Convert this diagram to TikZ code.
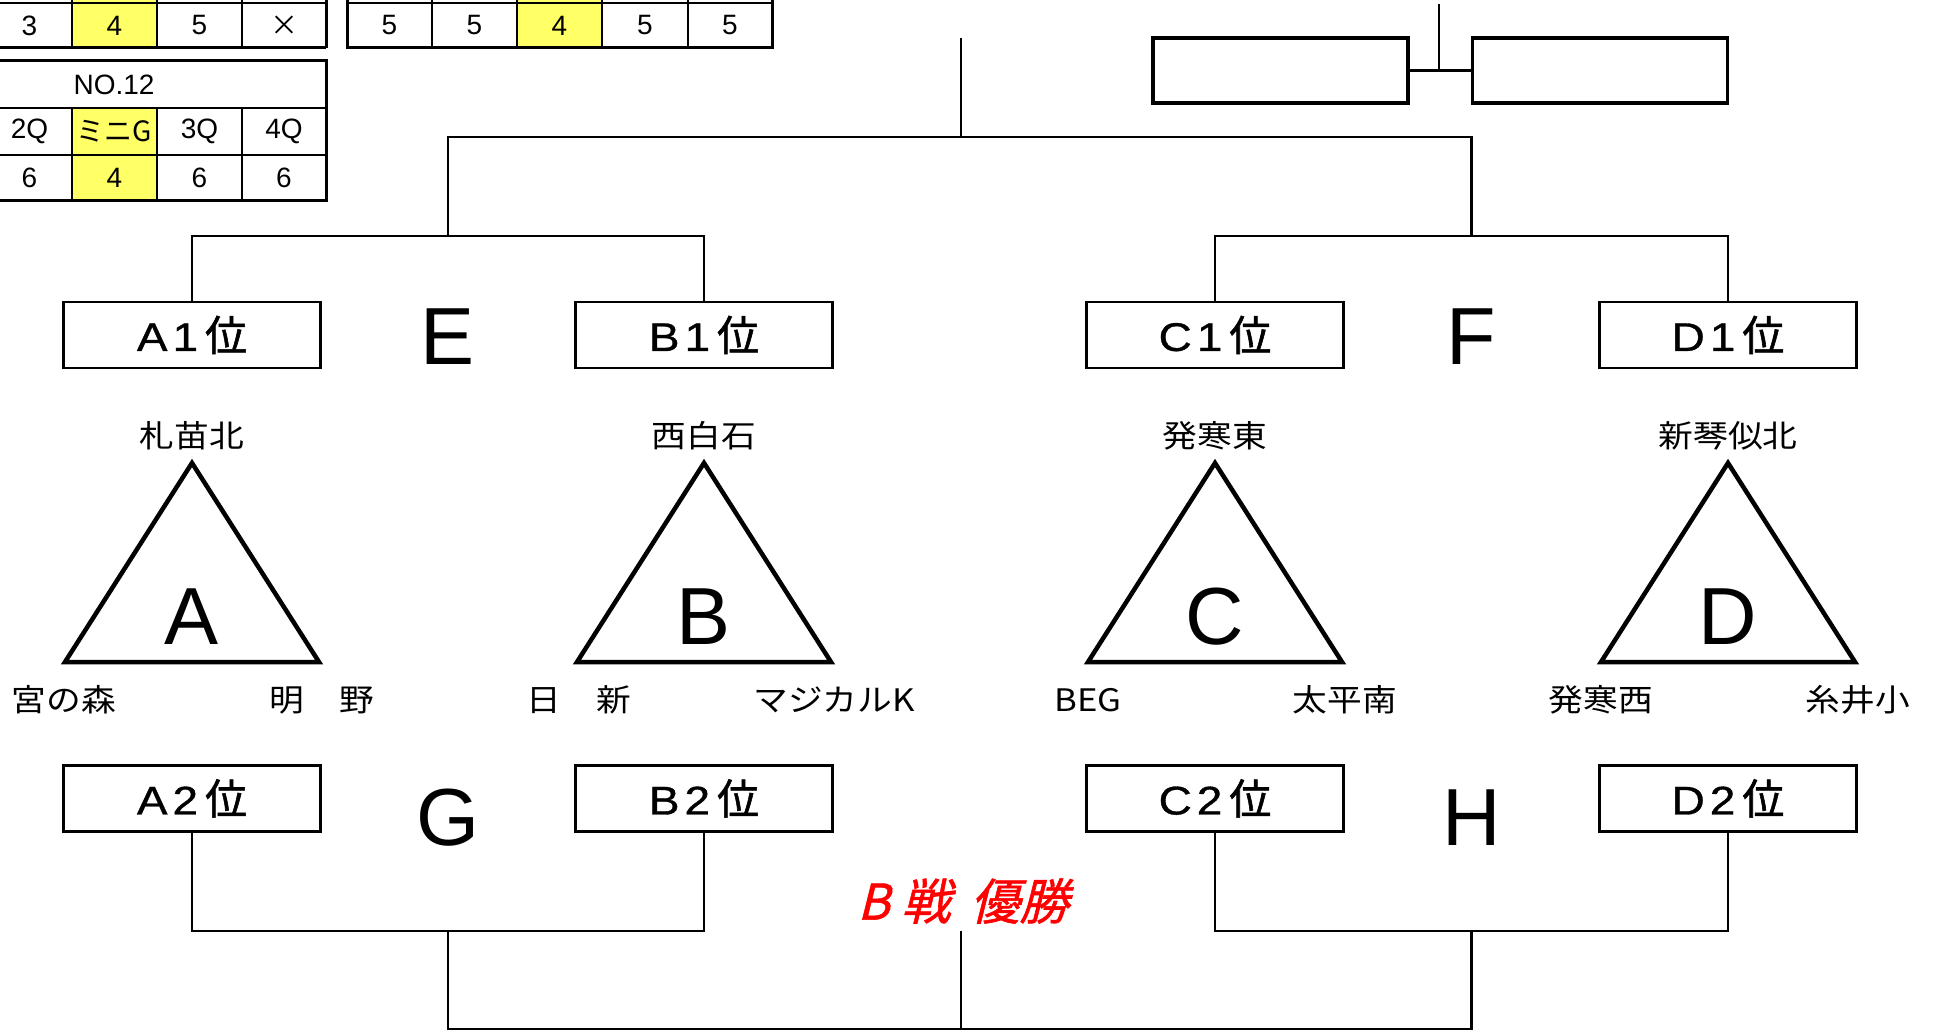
\documentclass[tikz,border=0pt]{standalone}
\usepackage{fontspec}
\setmainfont{Liberation Sans}
\newfontfamily\lsw[FakeStretch=1.15,FakeBold=0.8]{Liberation Sans}
\newfontfamily\jp{Noto Sans CJK JP}
\newfontfamily\jpb[FakeBold=1.4]{Noto Sans CJK JP}
\newfontfamily\jpw[FakeStretch=1.12]{Noto Sans CJK JP}
\newfontfamily\jpred[FakeSlant=0.25,FakeBold=1.2]{Noto Sans CJK JP}
\definecolor{yel}{RGB}{255,255,102}
\newcommand{\rk}[2]{{\lsw\fontsize{40}{40}\selectfont #1\hspace{5pt}#2\hspace{7pt}}{\jpb\fontsize{42}{42}\selectfont 位}}
\begin{document}
\begin{tikzpicture}[x=1pt,y=-1pt,
  ln/.style={line width=2.7pt},
  thinln/.style={line width=1.3pt},
  thickln/.style={line width=3pt},
  tri/.style={line width=4.5pt,line join=miter},
  rankbox/.style={draw,line width=2.6pt,minimum width=257pt,minimum height=66pt,inner sep=0pt},
  emptybox/.style={draw,line width=3.2pt,minimum width=255pt,minimum height=65pt,inner sep=0pt},
  big/.style={inner sep=0pt,anchor=base,font=\fontsize{81}{81}\selectfont},
  team/.style={inner sep=0pt,font=\jpw\fontsize{31}{31}\selectfont},
  cell/.style={inner sep=0pt,font=\fontsize{28}{28}\selectfont},
  jcell/.style={inner sep=0pt,font=\jp\fontsize{28}{28}\selectfont}]
\useasboundingbox (0,0) rectangle (1936,1032);
\clip (0,0) rectangle (1936,1032);

% ---------- table 1 ----------
\fill[yel] (72,-42) rectangle (157,48);
\foreach \xx in {-13,72,157,242} \draw[thinln] (\xx,-42) -- (\xx,48);
\draw[thinln] (-98,3) -- (326,3);
\draw[thickln] (-98,48) -- (326,48) (326,-42) -- (326,48);
\node[cell] (t1c1) at (29.5,25.5) {3};
\node[cell] (t1c2) at (114.5,25.5) {4};
\node[cell] (t1c3) at (199.5,25.5) {5};
\node[jcell] (t1c4) at (284,25.5) {×};

% ---------- table 2 ----------
\fill[yel] (517,-42) rectangle (602,48);
\foreach \xx in {432,517,602,688} \draw[thinln] (\xx,-42) -- (\xx,48);
\draw[thinln] (347,3) -- (772,3);
\draw[thickln] (347,-42) -- (347,48) -- (772,48) -- (772,-42);
\node[cell] (t2c1) at (389.5,25.5) {5};
\node[cell] (t2c2) at (474.5,25.5) {5};
\node[cell] (t2c3) at (559.5,25.5) {4};
\node[cell] (t2c4) at (645,25.5) {5};
\node[cell] (t2c5) at (730,25.5) {5};

% ---------- table 3 ----------
\fill[yel] (72,108) rectangle (157,201);
\draw[thinln] (-98,108) -- (326,108) (-98,155) -- (326,155);
\foreach \xx in {-13,72,157,242} \draw[thinln] (\xx,108) -- (\xx,201);
\draw[thickln] (-98,61) rectangle (326,201);
\node[cell] (t3h) at (114,84.5) {NO.12};
\node[cell] (t3a) at (29.5,131.5) {2Q};
\node[jcell] (t3b) at (114.5,131.5) {ミニG};
\node[cell] (t3c) at (199.5,131.5) {3Q};
\node[cell] (t3d) at (284,131.5) {4Q};
\node[cell] (t3e) at (29.5,178) {6};
\node[cell] (t3f) at (114.5,178) {4};
\node[cell] (t3g) at (199.5,178) {6};
\node[cell] (t3i) at (284,178) {6};

% ---------- top right boxes ----------
\node[emptybox] (rb1) at (1280.5,70.5) {};
\node[emptybox] (rb2) at (1600,70.5) {};
\coordinate (trtop) at (1439,4);
\coordinate (trj) at (1439,70.5);
\draw[ln] (trtop) -- (trj);
\draw[ln] (rb1.east) -- (rb2.west);

% ---------- groups ----------
\foreach \n/\x in {A/192,B/704,C/1215,D/1728}{
  \node[rankbox] (\n1) at (\x,335) {\rk{\n}{1}};
  \node[rankbox] (\n2) at (\x,798.5) {\rk{\n}{2}};
  \coordinate (\n apex) at (\x,463);
  \coordinate (\n bl) at (\x-127,662);
  \coordinate (\n br) at (\x+127,662);
  \draw[tri] (\n apex) -- (\n bl) -- (\n br) -- cycle;
  \node[big] (\n big) at (\x,644) {\n};
}

\node[team] (ta) at (192,436) {札苗北};
\node[team] (tal) at (64,700) {宮の森};
\node[team] (tar) at (322,700) {明　野};
\node[team] (tb) at (704,436) {西白石};
\node[team] (tbl) at (579,700) {日　新};
\node[team] (tbr) at (834,700) {マジカルK};
\node[team] (tc) at (1215,436) {発寒東};
\node[team] (tcl) at (1088,700) {BEG};
\node[team] (tcr) at (1345,700) {太平南};
\node[team] (td) at (1728,436) {新琴似北};
\node[team] (tdl) at (1601,700) {発寒西};
\node[team] (tdr) at (1858,700) {糸井小};

\node[big] (E) at (448,364) {E};
\node[big] (F) at (1471.5,364) {F};
\node[big] (G) at (448,845) {G};
\node[big] (H) at (1471.5,845) {H};

% ---------- upper bracket ----------
\coordinate (jE) at (448,236);
\coordinate (jF) at (1471.5,236);
\coordinate (jTop) at (961,137);
\coordinate (topEnd) at (961,38);
\draw[ln] (A1.north) |- (jE) -| (B1.north);
\draw[ln] (C1.north) |- (jF) -| (D1.north);
\draw[ln] (jE) |- (jTop) -| (jF);
\draw[ln] (jTop) -- (topEnd);

% ---------- lower bracket ----------
\coordinate (jG) at (448,931);
\coordinate (jH) at (1471.5,931);
\coordinate (jBot) at (961,1029);
\coordinate (botEnd) at (961,931);
\draw[ln] (A2.south) |- (jG) -| (B2.south);
\draw[ln] (C2.south) |- (jH) -| (D2.south);
\draw[ln] (jG) |- (jBot) -| (jH);
\draw[line width=2pt] (jBot) -- (botEnd);

\node[inner sep=0pt,text=red,font=\jpred\fontsize{49}{49}\selectfont] (win) at (963,901) {B\hspace{12pt}戦\hspace{20pt}優勝};
\end{tikzpicture}
\end{document}
